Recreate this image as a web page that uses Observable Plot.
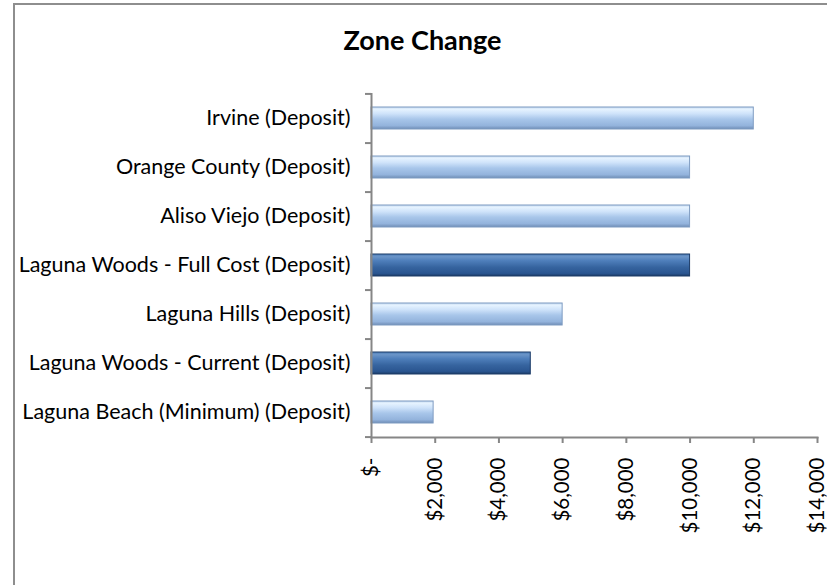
<!DOCTYPE html>
<html>
<head>
<meta charset="utf-8">
<script src="https://cdn.jsdelivr.net/npm/d3@7"></script>
<script src="https://cdn.jsdelivr.net/npm/@observablehq/plot@0.6"></script>
<style>
  html, body { margin: 0; padding: 0; background: #fff; overflow: hidden; }
  #wrap { position: relative; width: 827px; height: 585px; overflow: hidden; }
  #border { position: absolute; left: 13px; top: 3px; width: 1000px; height: 1000px; border-left: 2px solid #8e8e8e; border-top: 2px solid #8e8e8e; }
  #title { position: absolute; left: 0; width: 845px; top: 25px; text-align: center; font-family: Lato, "Open Sans", sans-serif; font-weight: bold; font-size: 27px; line-height: 30px; color: #000; }
  #chart { position: absolute; left: 0; top: 0; }
</style>
</head>
<body>
<div id="wrap">
  <div id="border"></div>
  <div id="title">Zone Change</div>
  <div id="chart"></div>
</div>
<script>
const categories = [
  "Irvine (Deposit)",
  "Orange County (Deposit)",
  "Aliso Viejo (Deposit)",
  "Laguna Woods - Full Cost (Deposit)",
  "Laguna Hills (Deposit)",
  "Laguna Woods - Current (Deposit)",
  "Laguna Beach (Minimum) (Deposit)"
];
const values = [12000, 10000, 10000, 10000, 6000, 5000, 1950];
const highlighted = [false, false, false, true, false, true, false];
const xTicks = [0, 2000, 4000, 6000, 8000, 10000, 12000, 14000];

const data = categories.map((c, i) => ({category: c, value: values[i], dark: highlighted[i]}));
const fmt = d => d === 0 ? "$-" : "$" + d3.format(",")(d);

const mTop = 93, mBottom = 148, H = 585;
const step = (H - mTop - mBottom) / categories.length;

const plot = Plot.plot({
  width: 827,
  height: H,
  marginLeft: 371,
  marginRight: 10,
  marginTop: mTop,
  marginBottom: mBottom,
  style: {fontFamily: "Lato, 'Open Sans', sans-serif", fontSize: "21.5px", color: "#000", background: "transparent"},
  x: {domain: [0, 14000]},
  y: {domain: categories, paddingInner: 0.55, paddingOuter: 0.275},
  marks: [
    Plot.barX(data.filter(d => !d.dark), {x: "value", y: "category", fill: "url(#gLight)", stroke: "#7f9cc2", strokeWidth: 1}),
    Plot.barX(data.filter(d => d.dark), {x: "value", y: "category", fill: "url(#gDark)", stroke: "#1c3c68", strokeWidth: 1}),
    Plot.axisY({tickSize: 0, tickPadding: 21, label: null, fontSize: 21.5, fill: "#000"}),
    Plot.axisY({tickSize: 6, tickFormat: () => "", label: null, dy: step / 2, stroke: "#868686", strokeWidth: 2}),
    Plot.axisY([categories[0]], {tickSize: 6, tickFormat: () => "", label: null, dy: -step / 2, stroke: "#868686", strokeWidth: 2}),
    Plot.axisX(xTicks, {tickSize: 6, tickPadding: 14, tickRotate: -90, tickFormat: fmt, label: null, fontSize: 20.5, stroke: "#868686", strokeWidth: 2, fill: "#000"}),
    Plot.ruleX([0], {stroke: "#868686", strokeWidth: 2}),
    Plot.frame({anchor: "bottom", stroke: "#868686", strokeWidth: 2})
  ]
});

const defs = d3.select(plot).insert("defs", ":first-child");
function grad(id, stops) {
  const g = defs.append("linearGradient").attr("id", id).attr("x1", 0).attr("y1", 0).attr("x2", 0).attr("y2", 1);
  stops.forEach(([o, c]) => g.append("stop").attr("offset", o).attr("stop-color", c));
}
grad("gLight", [[0, "#c3d7ee"], [0.1, "#e6f3ff"], [0.3, "#cfe3fa"], [0.55, "#a8c6ea"], [0.85, "#93b3dc"], [1, "#6f8db5"]]);
grad("gDark", [[0, "#4d7db8"], [0.12, "#6b95c8"], [0.3, "#4f7fbb"], [0.6, "#36649f"], [0.88, "#2a5590"], [1, "#1c3c68"]]);

document.getElementById("chart").appendChild(plot);
</script>
</body>
</html>
